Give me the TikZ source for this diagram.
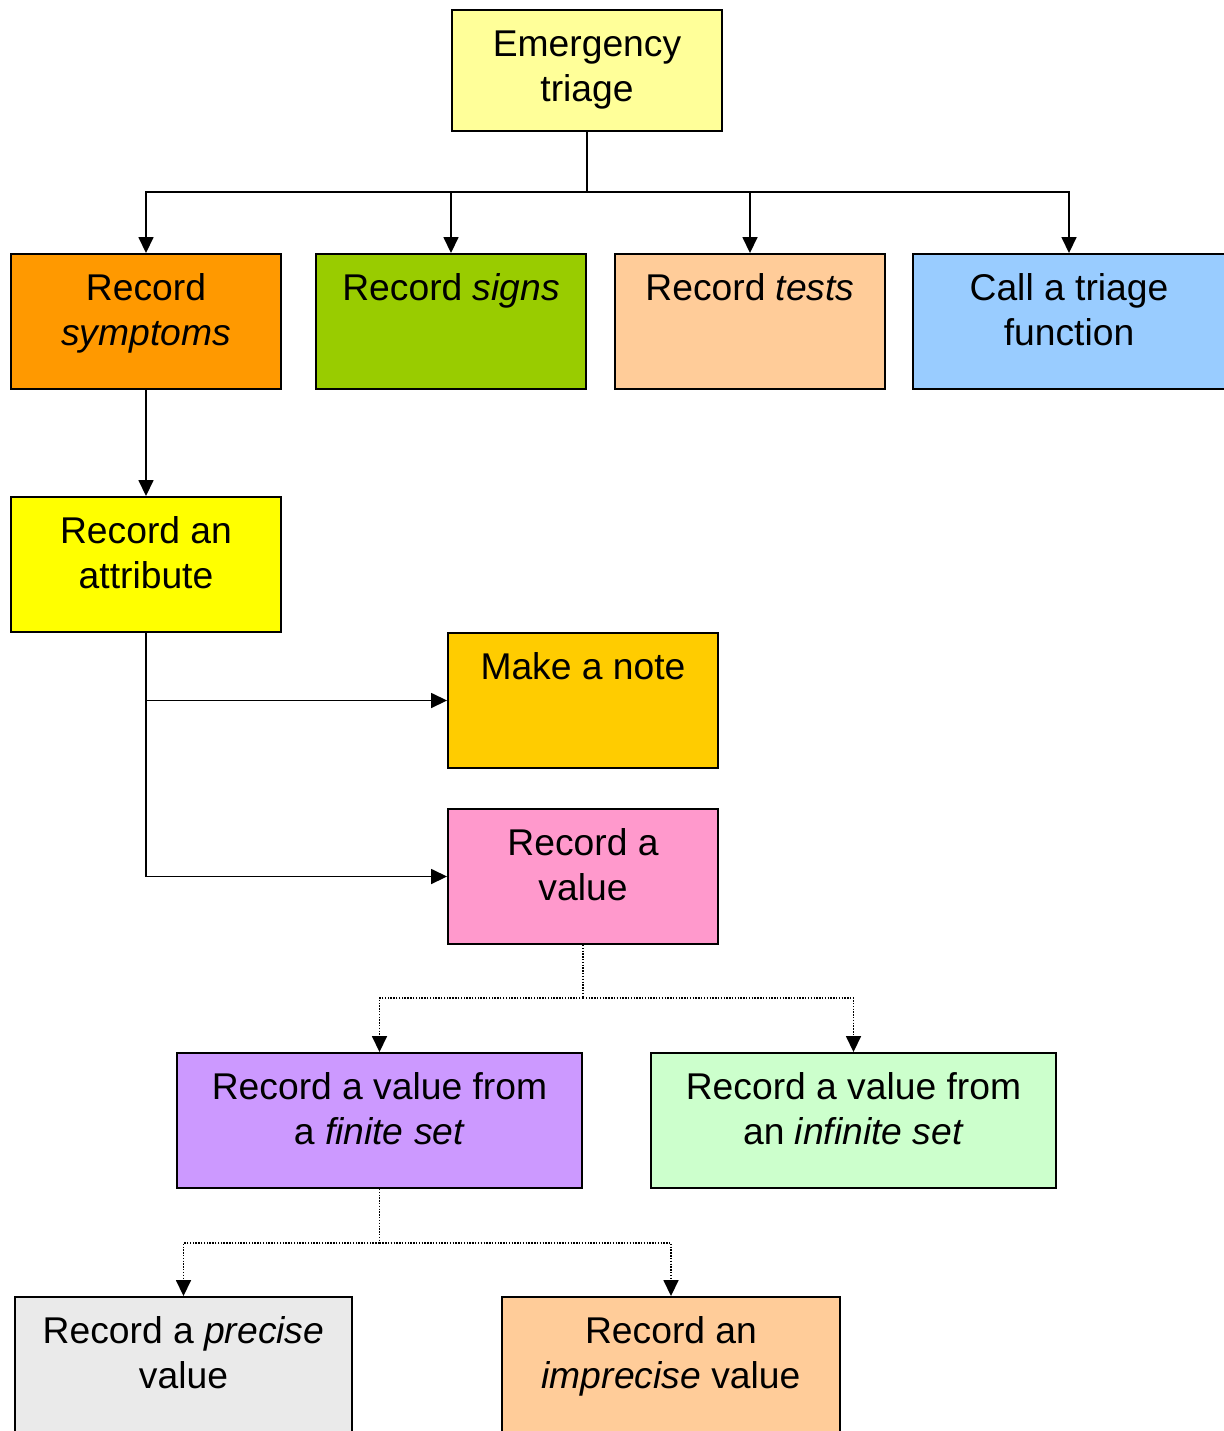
\documentclass[tikz,border=0pt]{standalone}
\usepackage{fontspec}
\setmainfont{Liberation Sans}
\usetikzlibrary{arrows.meta}
\definecolor{cEmer}{HTML}{FFFF99}
\definecolor{cSym}{HTML}{FF9900}
\definecolor{cSig}{HTML}{99CC00}
\definecolor{cTst}{HTML}{FFCC99}
\definecolor{cCall}{HTML}{99CCFF}
\definecolor{cAttr}{HTML}{FFFF00}
\definecolor{cNote}{HTML}{FFCC00}
\definecolor{cVal}{HTML}{FF99CC}
\definecolor{cFin}{HTML}{CC99FF}
\definecolor{cInf}{HTML}{CCFFCC}
\definecolor{cPre}{HTML}{EAEAEA}
\definecolor{cImp}{HTML}{FFCC99}
% strut fixing the height of the first text line
\newcommand\lnstrut{\rule{0pt}{0.8em}}
\begin{document}
\begin{tikzpicture}[x=0.02cm,y=-0.02cm,
  box/.style={draw=black, line width=1.1pt, rectangle, inner sep=0pt,
              minimum width=5.4cm, minimum height=2.7cm},
  lbl/.style={anchor=north, align=center, inner sep=0pt,
              font=\fontsize{21.2pt}{25.6pt}\selectfont},
  wire/.style={line width=0.9pt},
  link/.style={wire, -{Triangle[width=0.3cm,length=0.32cm]}},
  dotwire/.style={wire, dash pattern=on 0.8pt off 0.8pt},
  dotlink/.style={link, dash pattern=on 0.8pt off 0.8pt}]
\useasboundingbox (0,0) rectangle (1224,1431);
\clip (0,0) rectangle (1224,1431);
\fill[white] (0,0) rectangle (1224,1431);

% boxes
\node[box, fill=cEmer, minimum height=2.42cm] (emer) at (587,70.5) {};
\node[box, fill=cSym] (sym) at (146,321.5) {};
\node[box, fill=cSig] (sig) at (451,321.5) {};
\node[box, fill=cTst] (tst) at (750,321.5) {};
\node[box, fill=cCall, minimum width=6.24cm] (call) at (1069,321.5) {};
\node[box, fill=cAttr] (attr) at (146,564.5) {};
\node[box, fill=cNote] (note) at (583,700.5) {};
\node[box, fill=cVal] (val) at (583,876.5) {};
\node[box, fill=cFin, minimum width=8.1cm] (fin) at (379.5,1120.5) {};
\node[box, fill=cInf, minimum width=8.1cm] (inf) at (853.5,1120.5) {};
\node[box, fill=cPre, minimum width=6.74cm] (pre) at (183.5,1364.5) {};
\node[box, fill=cImp, minimum width=6.76cm] (imp) at (671,1364.5) {};

% texts
\node[lbl] (emerT) at (587,26.2) {\lnstrut Emergency\\triage};
\node[lbl] (symT) at (146,270.2) {\lnstrut Record\\\textit{symptoms}};
\node[lbl] (sigT) at (451,270.2) {\lnstrut Record \textit{signs}};
\node[lbl] (tstT) at (750,270.2) {\lnstrut Record \textit{tests}};
\node[lbl] (callT) at (1069,270.2) {\lnstrut Call a triage\\function};
\node[lbl] (attrT) at (146,513.2) {\lnstrut Record an\\attribute};
\node[lbl] (noteT) at (583,649.2) {\lnstrut Make a note};
\node[lbl] (valT) at (583,825.2) {\lnstrut Record a\\value};
\node[lbl] (finT) at (379.5,1069.2) {\lnstrut Record a value from\\a \textit{finite set}};
\node[lbl] (infT) at (853.5,1069.2) {\lnstrut Record a value from\\an \textit{infinite set}};
\node[lbl] (preT) at (183.5,1313.2) {\lnstrut Record a \textit{precise}\\value};
\node[lbl] (impT) at (671,1313.2) {\lnstrut Record an\\\textit{imprecise} value};

% solid connectors
\coordinate (bus1) at (587,192);
\draw[wire] (emer.south) -- (bus1);
\draw[link] (bus1) -| (sym.north);
\draw[link] (bus1) -| (sig.north);
\draw[link] (bus1) -| (tst.north);
\draw[link] (bus1) -| (call.north);
\draw[link] (sym.south) -- (attr.north);
\draw[link] (attr.south) |- (note.west);
\draw[link] (attr.south) |- (val.west);

% dotted connectors
\coordinate (bus2) at (583,998);
\draw[dotwire] (val.south) -- (bus2);
\draw[dotlink] (bus2) -| (fin.north);
\draw[dotlink] (bus2) -| (inf.north);
\coordinate (bus3) at (379.5,1243);
\draw[dotwire] (fin.south) -- (bus3);
\draw[dotlink] (bus3) -| (pre.north);
\draw[dotlink] (bus3) -| (imp.north);
\end{tikzpicture}
\end{document}
